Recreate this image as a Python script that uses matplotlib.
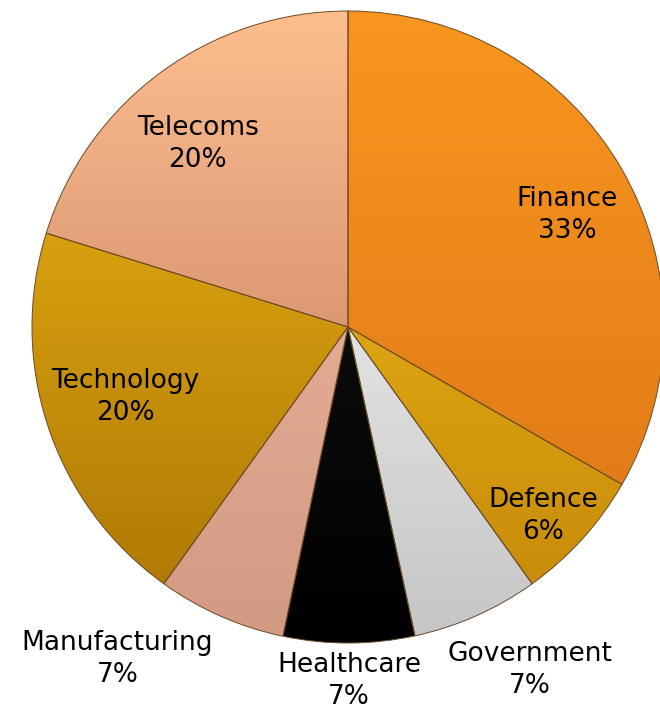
import numpy as np
import matplotlib.pyplot as plt
from matplotlib.colors import LinearSegmentedColormap

# sectors, clockwise from 12 o'clock
sectors = ['Finance', 'Defence', 'Government', 'Healthcare', 'Manufacturing', 'Technology', 'Telecoms']
shares = [33.3, 6.8, 6.5, 6.7, 6.6, 19.9, 20.2]
pct_labels = ['33%', '6%', '7%', '7%', '7%', '20%', '20%']
top_colors = ['#F9961F', '#DDA412', '#E2E2E2', '#0C0C0C', '#E3AB92', '#D8A00F', '#FDBE8F']
bottom_colors = ['#E27C18', '#C88C0A', '#C6C6C6', '#000000', '#D29A82', '#B07A06', '#DC9872']
# label placement: radius factor and angle nudge (deg)
label_r = [0.78, 0.86, 1.23, 1.12, 1.28, 0.74, 0.75]
label_da = [-3, -2, 4, 0, -11, -1, 3]

fig = plt.figure(figsize=(6.6, 7.13), dpi=100)
ax = fig.add_axes([0, 0, 1, 1])

cx, cy, R = 348, 386, 316
wedges, _ = ax.pie(shares, startangle=90, counterclock=False, center=(cx, cy), radius=R,
                   colors=top_colors, wedgeprops=dict(edgecolor='#6b4a25', linewidth=0.7))
ax.set_aspect('equal')

# vertical gradient inside each wedge
grad = np.linspace(0, 1, 256).reshape(-1, 1)
for w, c1, c2 in zip(wedges, top_colors, bottom_colors):
    ext = w.get_path().get_extents()
    cmap = LinearSegmentedColormap.from_list('g', [c2, c1])
    im = ax.imshow(grad, cmap=cmap, extent=(ext.x0, ext.x1, ext.y0, ext.y1),
                   origin='lower', aspect='auto', zorder=1.1)
    im.set_clip_path(w)
    w.set_facecolor('none')
    w.set_zorder(1.2)

for w, name, pct, r, da in zip(wedges, sectors, pct_labels, label_r, label_da):
    mid = np.deg2rad((w.theta1 + w.theta2) / 2 + da)
    x = cx + r * R * np.cos(mid)
    y = cy + r * R * np.sin(mid)
    ax.text(x, y, name + '\n' + pct, ha='center', va='center', fontsize=19,
            color='black', linespacing=1.3, zorder=5)

ax.set_xlim(0, 660)
ax.set_ylim(0, 713)
ax.axis('off')
fig.savefig('out.png', dpi=100)
